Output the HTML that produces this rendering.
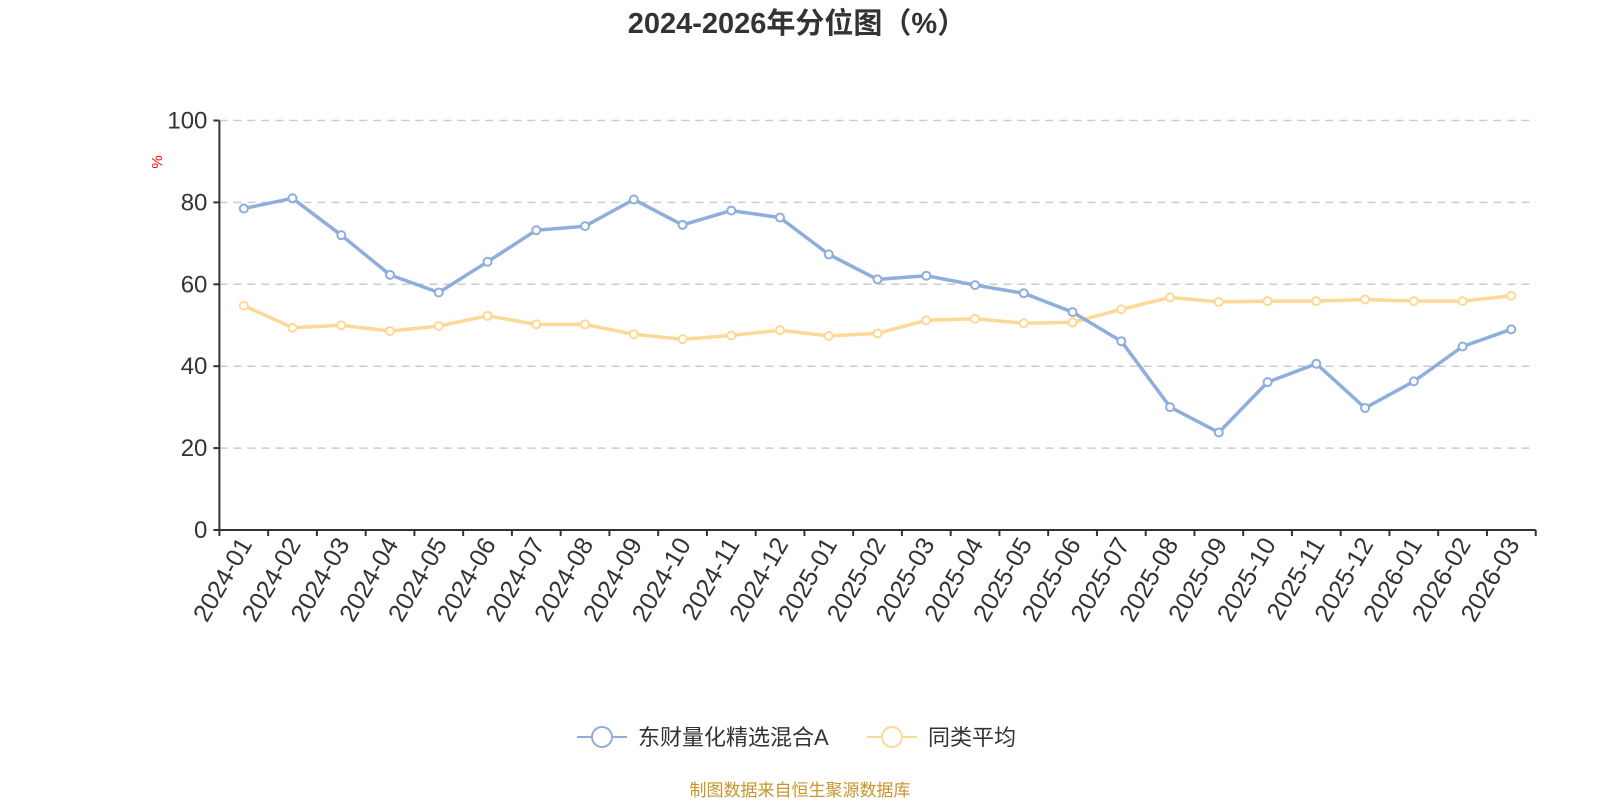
<!DOCTYPE html>
<html><head><meta charset="utf-8"><style>
html,body{margin:0;padding:0;background:#fff;}
svg{display:block;font-family:"Liberation Sans","Noto Sans CJK SC",sans-serif;}
</style></head><body>
<svg id="c" width="1600" height="800" viewBox="0 0 1600 800" xmlns="http://www.w3.org/2000/svg">
<text x="797" y="33" text-anchor="middle" font-size="29" font-weight="bold" fill="#333">2024-2026年分位图（%）</text>
<text transform="translate(162,162) rotate(-90)" text-anchor="middle" font-size="15" fill="#f00">%</text>
<g id="grid"></g>
<g id="axes"></g>
<g id="series"></g>
<g>
<line x1="577" y1="737" x2="627" y2="737" stroke="#8eaedb" stroke-width="2"/>
<circle cx="602" cy="737" r="10" fill="#fff" stroke="#8eaedb" stroke-width="2"/>
<text x="638" y="745" font-size="22" fill="#333">东财量化精选混合A</text>
<line x1="867" y1="737" x2="917" y2="737" stroke="#fdd897" stroke-width="2"/>
<circle cx="892" cy="737" r="10" fill="#fff" stroke="#fdd897" stroke-width="2"/>
<text x="928" y="745" font-size="22" fill="#333">同类平均</text>
</g>
<text x="800" y="796" text-anchor="middle" font-size="17" fill="#c8952a">制图数据来自恒生聚源数据库</text>
</svg>
<script>
var NS="http://www.w3.org/2000/svg";
function el(p,t,a,txt){var e=document.createElementNS(NS,t);for(var k in a)e.setAttribute(k,a[k]);if(txt!=null)e.textContent=txt;document.getElementById(p).appendChild(e);return e;}
var x0=219.4,x1=1535.7,y0=530,yt=120.5,n=27,bw=(x1-x0)/n;
function Y(v){return y0-(y0-yt)*v/100;}
function X(i){return x0+bw*(i+0.5);}
for(var v=20;v<=100;v+=20){el("grid","line",{x1:x0,x2:x1,y1:Y(v),y2:Y(v),stroke:"#ccc","stroke-width":1.5,"stroke-dasharray":"8,6"});}
el("axes","line",{x1:x0,x2:x0,y1:yt,y2:y0,stroke:"#333","stroke-width":2});
el("axes","line",{x1:x0,x2:x1,y1:y0,y2:y0,stroke:"#333","stroke-width":2});
for(var v=0;v<=100;v+=20){el("axes","line",{x1:x0-6,x2:x0,y1:Y(v),y2:Y(v),stroke:"#333","stroke-width":2});
el("axes","text",{x:x0-12,y:Y(v)+8,"text-anchor":"end","font-size":24,fill:"#333"},String(v));}
var labs=[];for(var y=2024;y<=2026;y++)for(var m=1;m<=12;m++){if(labs.length<27)labs.push(y+"-"+(m<10?"0":"")+m);}
for(var i=0;i<=n;i++){el("axes","line",{x1:x0+bw*i,x2:x0+bw*i,y1:y0,y2:y0+6,stroke:"#333","stroke-width":2});}
for(var i=0;i<n;i++){el("axes","text",{transform:"translate("+(X(i)+9)+","+(y0+14)+") rotate(-60)","text-anchor":"end","font-size":25,fill:"#333"},labs[i]);}
var b=[78.5,81,72,62.3,58,65.5,73.2,74.2,80.7,74.5,78,76.3,67.3,61.2,62.1,59.8,57.8,53.2,46.1,30,23.8,36.1,40.6,29.8,36.3,44.8,49];
var yl=[54.8,49.4,50,48.6,49.8,52.3,50.2,50.2,47.8,46.6,47.5,48.8,47.4,48,51.2,51.6,50.5,50.7,53.9,56.8,55.7,55.9,55.9,56.3,55.9,55.9,57.2];
function draw(d,c){var p=d.map(function(v,i){return (i?"L":"M")+X(i).toFixed(1)+","+Y(v).toFixed(1);}).join("");
el("series","path",{d:p,fill:"none",stroke:c,"stroke-width":3.5,"stroke-linejoin":"round"});
d.forEach(function(v,i){el("series","circle",{cx:X(i),cy:Y(v),r:4,fill:"#fff",stroke:c,"stroke-width":2});});}
draw(yl,"#fdd897");draw(b,"#8eaedb");
</script>
</body></html>
